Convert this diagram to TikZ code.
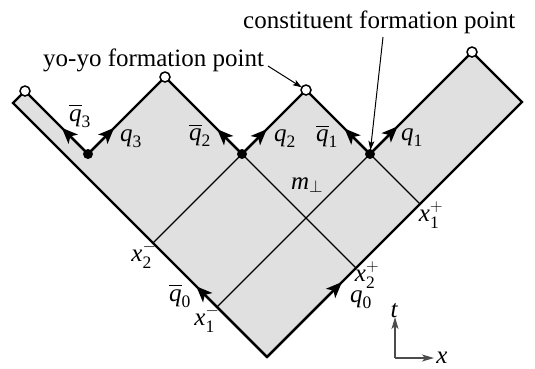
\documentclass[tikz,border=0pt]{standalone}
\usepackage{amsmath}
\usepackage{fontspec}
\setmainfont{Liberation Serif}
\usetikzlibrary{arrows.meta,calc}
\newcommand\qq[1]{$\text{\itshape q}_{\text{#1}}$}
\newcommand\qbar[1]{$\overline{\text{\itshape q}}_{\text{#1}}$}
\newcommand\xminus[1]{$\text{\itshape x}_{\text{#1}}^{-}$}
\newcommand\xplus[1]{$\text{\itshape x}_{\text{#1}}^{+}$}
\begin{document}
\begin{tikzpicture}[x=1pt,y=-1pt,
  lab/.style={inner sep=0pt,font=\fontsize{25}{30}\selectfont},
  edge/.style={line width=2.4pt,line join=miter},
  innerline/.style={line width=1.1pt},
  tipq/.style={-{Stealth[length=16pt,width=13pt,inset=4pt]},line width=2.4pt},
  lead/.style={line width=1pt,-{Stealth[length=9pt,width=6pt,inset=2pt]}},
  axis/.style={line width=1.4pt,draw=black!70,-{Stealth[length=12pt,width=7pt,inset=3pt]}},
  dotc/.style={fill=black},
  ring/.style={draw=black,line width=1.5pt,fill=white}]
\useasboundingbox (0,0) rectangle (535,368);
% light-cone vertices
\coordinate (B) at (267,357);
\coordinate (L) at (13,103);
\coordinate (C3) at (25,91);
\coordinate (D3) at (88,154);
\coordinate (C2) at (165,77);
\coordinate (D2) at (242,154);
\coordinate (C1) at (306,90);
\coordinate (D1) at (370,154);
\coordinate (C0) at (472,52);
\coordinate (R) at (522,102);
\coordinate (X2m) at (153,243);
\coordinate (X1m) at (217,307);
\coordinate (X2p) at (356,268);
\coordinate (X1p) at (420,204);
% fill
\fill[black!12] (B) -- (L) -- (C3) -- (D3) -- (C2) -- (D2) -- (C1) -- (D1) -- (C0) -- (R) -- cycle;
% interior lines
\draw[innerline] (X2m) -- (D2) -- (X2p);
\draw[innerline] (X1m) -- (D1) -- (X1p);
% outline
\draw[edge] (B) -- (L) -- (C3) -- (D3) -- (C2) -- (D2) -- (C1) -- (D1) -- (C0) -- (R) -- cycle;
% quark arrows
\draw[tipq] (D3) -- ($(D3)!37pt!(C3)$);
\draw[tipq] (D3) -- ($(D3)!37pt!(C2)$);
\draw[tipq] (D2) -- ($(D2)!35pt!(C2)$);
\draw[tipq] (D2) -- ($(D2)!35pt!(C1)$);
\draw[tipq] (D1) -- ($(D1)!36pt!(C1)$);
\draw[tipq] (D1) -- ($(D1)!39pt!(C0)$);
\draw[tipq] (B) -- ($(B)!100pt!(L)$);
\draw[tipq] (B) -- ($(B)!106pt!(R)$);
% dots and rings
\fill[dotc] (D3) circle (5pt);
\fill[dotc] (D2) circle (5pt);
\fill[dotc] (D1) circle (5pt);
\draw[ring] (C3) circle (5pt);
\draw[ring] (C2) circle (5pt);
\draw[ring] (C1) circle (5pt);
\draw[ring] (C0) circle (5pt);
% labels
\node[lab] (lqb3) at (80,116) {\qbar{3}};
\node[lab] (lq3) at (131,139) {\qq{3}};
\node[lab] (lqb2) at (200,135) {\qbar{2}};
\node[lab] (lq2) at (285,139) {\qq{2}};
\node[lab] (lqb1) at (327,136) {\qbar{1}};
\node[lab] (lq1) at (412,138) {\qq{1}};
\node[lab] (lm) at (307,185) {$\text{\itshape m}_{\perp}$};
\node[lab] (lx2m) at (144,255) {\xminus{2}};
\node[lab] (lqb0) at (180,296) {\qbar{0}};
\node[lab] (lx1m) at (207,319) {\xminus{1}};
\node[lab] (lx2p) at (367,275) {\xplus{2}};
\node[lab] (lq0) at (361,300) {\qq{0}};
\node[lab] (lx1p) at (431,215) {\xplus{1}};
% annotations
\node[lab,anchor=base west] (cft) at (243,28) {constituent formation point};
\node[lab,anchor=base west] (yyt) at (43,66) {yo-yo formation point};
\coordinate (cfs) at (383,37);
\coordinate (yys) at (268,66);
\draw[lead,shorten >=4pt] (cfs) -- (D1);
\draw[lead,shorten >=5pt] (yys) -- (C1);
% axes
\coordinate (O) at (395,358);
\coordinate (Ot) at (395,317);
\coordinate (Ox) at (434,358);
\draw[axis] (O) -- (Ot);
\draw[axis] (O) -- (Ox);
\node[lab] (lt) at (394,311) {\itshape t};
\node[lab] (lx) at (442,358) {\itshape x};
\end{tikzpicture}
\end{document}
